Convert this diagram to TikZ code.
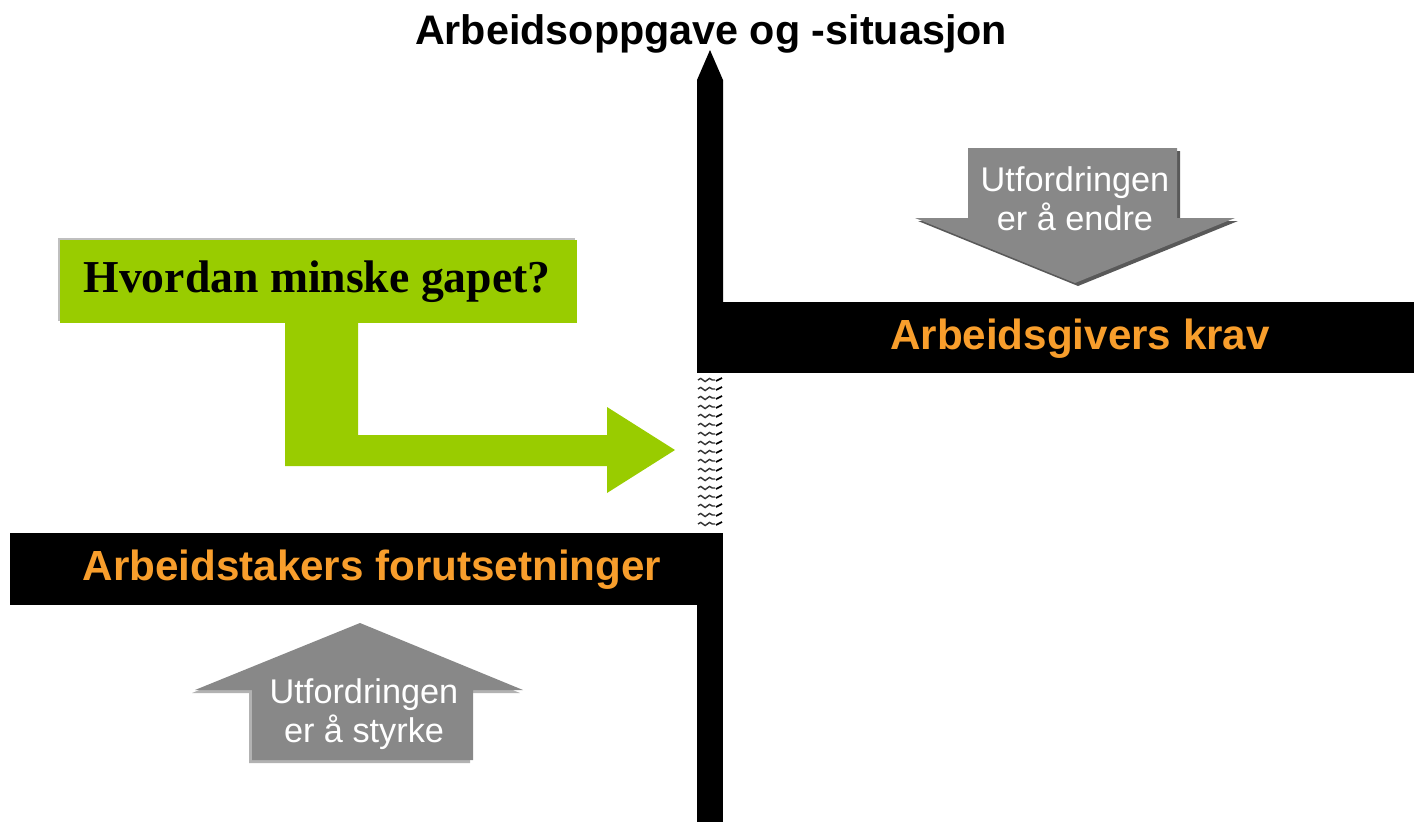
\documentclass[tikz,border=0pt]{standalone}
\usepackage{fontspec}
\setmainfont{Liberation Sans}
\newfontfamily\timesbold{Liberation Serif}
\usepackage{xcolor}
\usetikzlibrary{decorations.pathmorphing}

\definecolor{gapgreen}{RGB}{153,204,0}
\definecolor{kravorange}{RGB}{248,158,44}
\definecolor{utfgray}{RGB}{136,136,136}

\tikzset{
  axisbar/.style={fill=black, draw=none},
  bandlabel/.style={text=kravorange, font=\fontsize{24}{26}\selectfont\bfseries, inner sep=0pt},
  utflabel/.style={text=white, font=\fontsize{19.5}{22}\selectfont, align=center, inner sep=0pt},
  wavyrow/.style={draw=black!80, line width=0.8pt,
    decorate, decoration={snake, amplitude=0.9pt, segment length=5pt}},
}

\begin{document}
\begin{tikzpicture}[x=0.02cm, y=-0.02cm]%
  \useasboundingbox (0,0) rectangle (1414,822);
% title
  \node[font=\fontsize{23.5}{26}\selectfont\bfseries, inner sep=0pt] (title) at (711,34) {Arbeidsoppgave og -situasjon};
% axes and bands
  \fill[black] (697,302) -- (697,80) -- (710,50) -- (723,80) -- (723,302) -- cycle;
  \fill[black] (697,302) rectangle (1414,373);
  \fill[black] (10,533) rectangle (723,605);
  \fill[black] (697,605) rectangle (723,822);
% gap
  \foreach \y in {380,389,...,530} {
    \draw[wavyrow] (698,\y) -- (715,\y);
    \draw[black, line width=1pt] (716,\y+1) -- (722,\y-2);
  }
  \node[bandlabel] (krav) at (1080,339) {Arbeidsgivers krav};
  \node[bandlabel] (foruts) at (372,570) {Arbeidstakers forutsetninger};
% green question and arrow
  \fill[gapgreen] (285,323) -- (285,466) -- (607,466) -- (607,493) -- (675,450)
    -- (607,407) -- (607,435) -- (358,435) -- (358,323) -- cycle;
  \fill[black!25] (58,238) rectangle (575,321);
  \fill[gapgreen] (60,240) rectangle (577,323);
  \node[font=\fontsize{26}{28}\selectfont\timesbold\bfseries, inner sep=0pt] (gap) at (317,282) {Hvordan minske gapet?};
% down arrow
  \fill[black!65] (971,151) -- (1180,151) -- (1180,221) -- (1238,221) -- (1078,286) -- (918,221) -- (971,221) -- cycle;
  \fill[utfgray] (968,148) -- (1177,148) -- (1177,218) -- (1235,218) -- (1075,283) -- (915,218) -- (968,218) -- cycle;
  \node[utflabel] (endre) at (1075,199) {Utfordringen\\er å endre};
% up arrow
  \fill[black!30] (357,626) -- (520,693) -- (470,693) -- (470,763) -- (249,763) -- (249,693) -- (192,693) -- cycle;
  \fill[utfgray] (360,623) -- (523,690) -- (473,690) -- (473,760) -- (252,760) -- (252,690) -- (195,690) -- cycle;
  \node[utflabel] (styrke) at (364,714) {Utfordringen\\er å styrke};
\end{tikzpicture}
\end{document}
